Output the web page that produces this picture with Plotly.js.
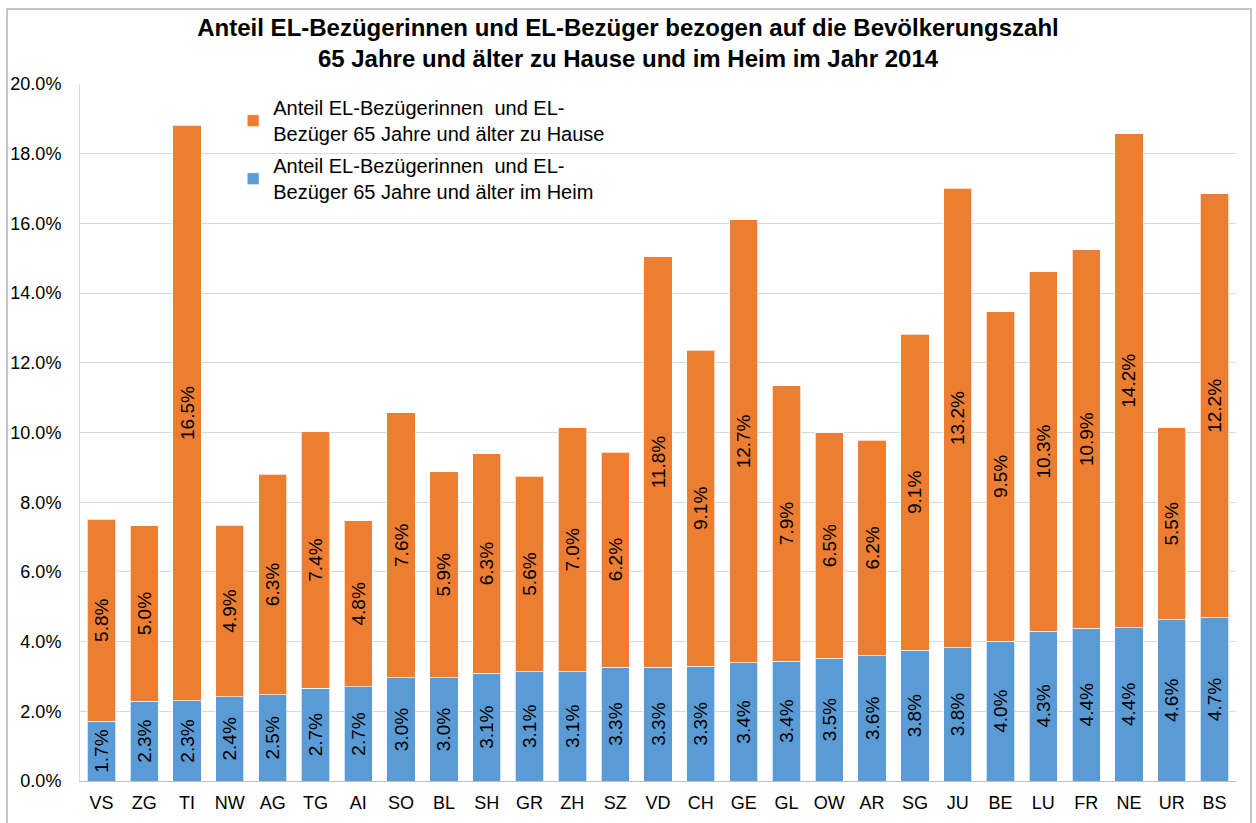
<!DOCTYPE html>
<html>
<head>
<meta charset="utf-8">
<script src="https://cdn.plot.ly/plotly-3.0.1.min.js"></script>
<style>
  html, body { margin: 0; padding: 0; background: #fff; }
  #chart { width: 1256px; height: 823px; }
</style>
</head>
<body>
<div id="chart"></div>
<script>
const categories = ["VS","ZG","TI","NW","AG","TG","AI","SO","BL","SH","GR","ZH","SZ","VD","CH","GE","GL","OW","AR","SG","JU","BE","LU","FR","NE","UR","BS"];
// Anteil im Heim (%)
const heimValues = [1.72,2.29,2.30,2.42,2.48,2.66,2.70,2.96,2.96,3.09,3.14,3.14,3.27,3.27,3.29,3.39,3.44,3.52,3.60,3.75,3.82,4.01,4.30,4.38,4.40,4.63,4.68];
// Anteil zu Hause (%)
const hauseValues = [5.79,5.03,16.52,4.92,6.32,7.36,4.77,7.61,5.92,6.30,5.60,6.99,6.17,11.77,9.07,12.71,7.90,6.47,6.18,9.07,13.19,9.46,10.31,10.86,14.17,5.50,12.17];

const nameHeim = "Anteil EL-Bezügerinnen  und EL-<br>Bezüger 65 Jahre und älter im Heim";
const nameHause = "Anteil EL-Bezügerinnen  und EL-<br>Bezüger 65 Jahre und älter zu Hause";

const FONT = "Liberation Sans, Arial, Helvetica, sans-serif";

const common = {
  type: "bar",
  x: categories,
  textposition: "inside",
  insidetextanchor: "middle",
  textangle: -90,
  texttemplate: "%{y:.1f}%",
  textfont: { family: FONT, size: 19, color: "#000" },
  constraintext: "none",
  hoverinfo: "x+y+name"
};

const traces = [
  Object.assign({}, common, {
    name: nameHeim,
    legendgroup: "heim",
    legendrank: 2,
    y: heimValues,
    marker: { color: "#5B9BD5", line: { color: "rgba(255,255,255,0.7)", width: 1 } }
  }),
  Object.assign({}, common, {
    name: nameHause,
    legendgroup: "hause",
    legendrank: 1,
    y: hauseValues,
    marker: { color: "#ED7D31", line: { color: "rgba(255,255,255,0.7)", width: 1 } }
  })
];

const layout = {
  width: 1256,
  height: 823,
  margin: { l: 80, r: 20, t: 84, b: 42, autoexpand: false },
  paper_bgcolor: "#fff",
  plot_bgcolor: "#fff",
  font: { family: FONT, size: 18, color: "#000" },
  barmode: "stack",
  bargap: 0.34,
  uniformtext: { mode: "show", minsize: 19 },
  title: {
    text: "<b>Anteil EL-Bezügerinnen und EL-Bezüger bezogen auf die Bevölkerungszahl<br>65 Jahre und älter zu Hause und im Heim im Jahr 2014</b>",
    font: { family: FONT, size: 24, color: "#000" },
    x: 0.5,
    xref: "container",
    xanchor: "center",
    y: 0.956,
    yref: "container",
    yanchor: "top"
  },
  xaxis: {
    type: "category",
    showgrid: false,
    showline: true,
    linecolor: "#bfbfbf",
    linewidth: 1,
    ticks: "",
    ticklabelstandoff: 5,
    tickfont: { family: FONT, size: 18, color: "#000" },
    automargin: false,
    fixedrange: true
  },
  yaxis: {
    range: [0, 20],
    dtick: 2,
    tick0: 0,
    tickformat: ".1f",
    ticksuffix: "%",
    showgrid: true,
    gridcolor: "#d9d9d9",
    gridwidth: 1,
    zeroline: false,
    showline: true,
    linecolor: "#d9d9d9",
    linewidth: 1,
    ticks: "",
    ticklabelstandoff: 14,
    tickfont: { family: FONT, size: 18, color: "#000" },
    automargin: false,
    fixedrange: true
  },
  legend: {
    x: 0.1325,
    y: 0.994,
    xanchor: "left",
    yanchor: "top",
    traceorder: "grouped",
    bgcolor: "rgba(0,0,0,0)",
    font: { family: FONT, size: 20, color: "#000" },
    itemwidth: 30,
    tracegroupgap: 3
  },
  shapes: [
    {
      type: "rect",
      xref: "paper",
      yref: "paper",
      x0: -0.0631, x1: 1.0130,
      y0: -0.09, y1: 1.1076,
      line: { color: "#b3b3b3", width: 1.5 },
      fillcolor: "rgba(0,0,0,0)",
      layer: "below"
    }
  ],
  showlegend: true
};

Plotly.newPlot("chart", traces, layout, { displayModeBar: false, staticPlot: true });
</script>
</body>
</html>
